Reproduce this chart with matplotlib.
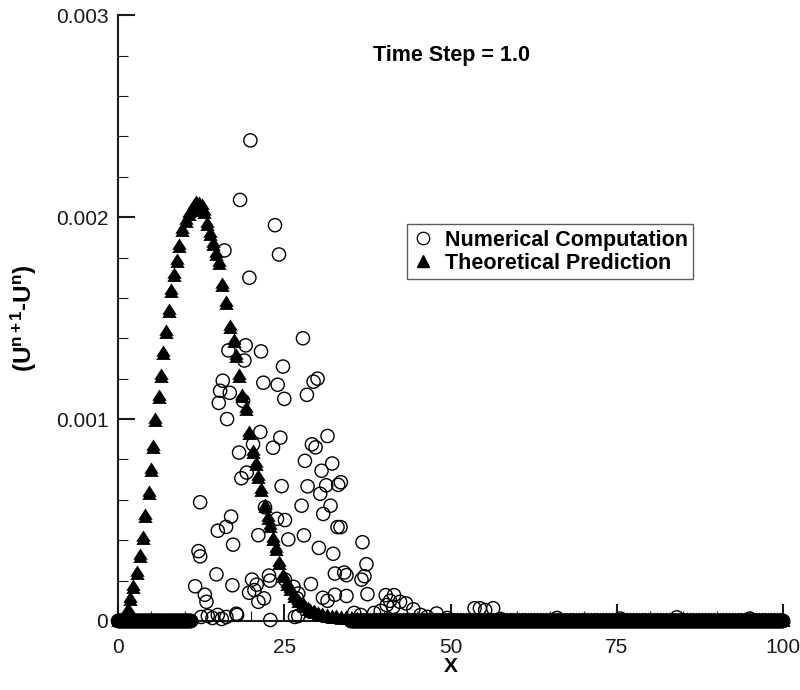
import numpy as np
import matplotlib
matplotlib.use("Agg")
import matplotlib.pyplot as plt
from matplotlib.path import Path
from matplotlib.lines import Line2D

INK = "#1a1a1a"

plt.rcParams.update({
    "font.family": "Liberation Sans",
    "mathtext.fontset": "custom",
    "mathtext.rm": "Liberation Sans",
    "mathtext.bf": "Liberation Sans:bold",
    "mathtext.it": "Liberation Sans:italic",
})

# scattered numerical points (x, value in units of 1e-3)
NUM_X = [19.9, 18.35, 23.6, 16.0, 24.2, 19.75, 27.8, 16.6, 19.2, 21.5,
         19.0, 24.8, 15.75, 15.35, 16.8, 15.15, 18.8, 21.85, 24.0, 25.0,
         30.0, 29.4, 28.4, 16.4, 21.4, 24.4, 23.3, 20.3, 18.2, 29.15,
         29.7, 31.5, 28.1, 32.2, 30.6, 19.35, 18.55, 24.6, 28.5, 31.3,
         33.5, 33.1, 30.4, 12.35, 27.6, 31.95, 30.85, 17.0, 16.25, 15.0,
         22.1, 23.9, 25.1, 33.0, 33.45, 17.3, 21.1, 25.6, 27.95, 30.2,
         32.35, 36.75, 37.35, 12.1, 12.35, 14.8, 17.2, 20.15, 20.85, 19.7,
         20.5, 21.95, 21.1, 22.7, 22.85, 11.6, 13.05, 13.3, 29.0, 26.9,
         30.8, 31.5, 26.4, 27.1, 25.1, 32.6, 34.0, 34.35, 36.6, 37.05,
         32.6, 34.35, 37.5, 40.25, 41.5, 40.9, 40.4, 42.4, 43.3, 41.4,
         44.4, 47.9, 53.6, 54.4, 55.2, 56.4, 17.8, 17.9,
         12.5, 13.5, 14.2, 15.0, 15.6, 16.3, 22.9, 26.6, 27.1, 35.5,
         36.5, 38.5, 39.5, 45.5, 46.5, 49.5, 57.5, 66.0, 75.5, 84.0, 95.0]
NUM_Y = [2.38, 2.085, 1.96, 1.835, 1.815, 1.70, 1.40, 1.34, 1.365, 1.335,
         1.29, 1.26, 1.19, 1.14, 1.13, 1.08, 1.09, 1.18, 1.17, 1.10,
         1.20, 1.185, 1.12, 1.00, 0.936, 0.908, 0.858, 0.875, 0.834, 0.875,
         0.86, 0.916, 0.793, 0.78, 0.744, 0.735, 0.707, 0.668, 0.667, 0.672,
         0.687, 0.674, 0.63, 0.588, 0.571, 0.571, 0.53, 0.517, 0.466, 0.447,
         0.563, 0.506, 0.50, 0.465, 0.465, 0.378, 0.425, 0.404, 0.424, 0.362,
         0.333, 0.39, 0.281, 0.346, 0.32, 0.231, 0.177, 0.205, 0.18, 0.14,
         0.153, 0.112, 0.095, 0.225, 0.20, 0.172, 0.13, 0.095, 0.183, 0.112,
         0.115, 0.10, 0.169, 0.136, 0.205, 0.235, 0.24, 0.227, 0.205, 0.222,
         0.13, 0.124, 0.133, 0.128, 0.128, 0.10, 0.079, 0.095, 0.087, 0.07,
         0.058, 0.037, 0.063, 0.063, 0.054, 0.063, 0.036, 0.03,
         0.02, 0.025, 0.015, 0.03, 0.01, 0.02, 0.005, 0.02, 0.025, 0.04,
         0.03, 0.04, 0.05, 0.03, 0.02, 0.015, 0.01, 0.015, 0.012, 0.018, 0.012]

# mesh nodes where the numerical solution sits on zero
NUM_ZERO_X = np.concatenate([np.arange(0, 11.01, 0.1), np.arange(35, 100.01, 0.1)])

# theoretical prediction (x, value in units of 1e-3)
THEORY_X = [1.5, 1.8, 2.2, 2.8, 3.3, 3.7, 4.1, 4.6, 4.9, 5.2,
            5.6, 6.1, 6.4, 6.7, 7.2, 7.7, 7.95, 8.4, 8.8, 9.2,
            9.6, 10.2, 10.7, 11.1, 11.5, 11.8, 12.2, 12.6, 13.0, 13.4,
            13.8, 14.3, 14.7, 15.2, 15.7, 16.3, 16.85, 17.4, 17.7, 18.2,
            18.65, 19.2, 19.7, 20.3, 20.75, 21.1, 21.45, 22.1, 22.5, 22.85,
            23.35, 23.75, 24.25, 24.85, 25.4, 25.9, 26.5, 27.1, 27.6, 28.0,
            28.5, 28.9, 29.5, 30.0, 30.7, 31.4, 32.1, 32.8, 33.5, 34.3, 35.2, 36.0]
THEORY_Y = [0.05, 0.103, 0.161, 0.235, 0.317, 0.407, 0.514, 0.629, 0.744, 0.859,
            0.99, 1.105, 1.21, 1.32, 1.425, 1.53, 1.63, 1.71, 1.78, 1.85,
            1.93, 1.975, 2.01, 2.03, 2.05, 2.065, 2.06, 2.05, 2.02, 1.96,
            1.91, 1.86, 1.81, 1.77, 1.66, 1.57, 1.45, 1.38, 1.305, 1.21,
            1.11, 1.045, 0.925, 0.834, 0.772, 0.707, 0.645, 0.563, 0.506, 0.465,
            0.40, 0.35, 0.284, 0.218, 0.18, 0.153, 0.12, 0.095, 0.08, 0.068,
            0.056, 0.046, 0.038, 0.032, 0.026, 0.021, 0.016, 0.013, 0.010, 0.008, 0.006, 0.004]
THEORY_ZERO_X = np.concatenate([np.arange(0, 1.31, 0.45), np.arange(36.5, 100.01, 0.45)])

# two stacked triangles: each theory node shows as a doubled marker
tri_top = [(0, 1.0), (-0.8, -0.25), (0.8, -0.25), (0, 1.0)]
tri_bot = [(0, 0.65), (-0.8, -0.6), (0.8, -0.6), (0, 0.65)]
codes = [Path.MOVETO, Path.LINETO, Path.LINETO, Path.CLOSEPOLY]
DOUBLE_TRI = Path(tri_top + tri_bot, codes + codes)

fig = plt.figure(figsize=(8, 6.9), dpi=100)
ax = fig.add_axes([0.1475, 0.1, 0.8315, 0.878])

tx = np.concatenate([THEORY_X, THEORY_ZERO_X])
ty = np.concatenate([np.array(THEORY_Y) * 1e-3, np.zeros(len(THEORY_ZERO_X))])
ax.plot(tx, ty, ls="none", marker=DOUBLE_TRI, ms=13, color="black",
        mec="black", mew=0, clip_on=False, zorder=3)

nx = np.concatenate([NUM_X, NUM_ZERO_X])
ny = np.concatenate([np.array(NUM_Y) * 1e-3, np.zeros(len(NUM_ZERO_X))])
ax.scatter(nx, ny, s=9.5 ** 2, marker="o", facecolors="none",
           edgecolors="black", linewidths=1.0, clip_on=False, zorder=4)

ax.set_xlim(0, 100)
ax.set_ylim(0, 0.003)
ax.set_xticks([0, 25, 50, 75, 100])
ax.set_xticks(np.arange(0, 101, 5), minor=True)
ax.set_yticks([0, 0.001, 0.002, 0.003])
ax.set_yticklabels(["0", "0.001", "0.002", "0.003"])
ax.set_yticks(np.arange(0, 0.00301, 0.0002), minor=True)

for side in ("top", "right"):
    ax.spines[side].set_visible(False)
for side in ("left", "bottom"):
    ax.spines[side].set_linewidth(1.5)
    ax.spines[side].set_color(INK)

ax.tick_params(which="major", direction="in", length=12, width=1.5,
               color=INK, labelsize=15, labelcolor=INK)
ax.tick_params(which="minor", direction="in", length=7, width=0.8, color=INK)
ax.tick_params(axis="x", which="major", pad=12)
ax.tick_params(axis="y", which="major", pad=7)

ax.set_xlabel("X", fontsize=15, fontweight="bold", labelpad=0)
ax.set_ylabel(r"$\mathbf{(U^{n+1}}$-$\mathbf{U^{n})}$", fontsize=17.5,
              fontweight="bold", labelpad=12)

ax.text(0.502, 0.934, "Time Step = 1.0", transform=ax.transAxes,
        ha="center", va="center", fontsize=15.5, fontweight="bold")

handles = [
    Line2D([], [], ls="none", marker="o", ms=9, mfc="none", mec="black", mew=0.9),
    Line2D([], [], ls="none", marker="^", ms=9, color="black"),
]
leg = ax.legend(handles, ["Numerical Computation", "Theoretical Prediction"],
                loc="upper left", bbox_to_anchor=(0.4346, 0.655),
                frameon=True, fancybox=False, borderpad=0.25, handlelength=1.0,
                handletextpad=0.5, labelspacing=0.1, borderaxespad=0,
                prop={"weight": "bold", "size": 15.5})
leg.get_frame().set_edgecolor("#333333")
leg.get_frame().set_linewidth(1.0)

fig.savefig("out.png", dpi=100)
